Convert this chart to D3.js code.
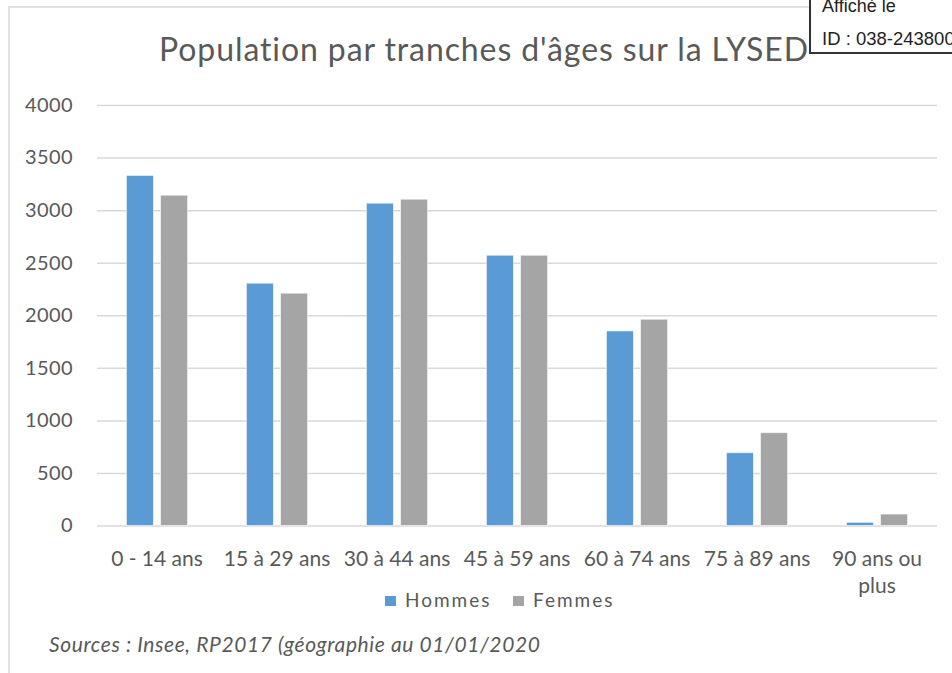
<!DOCTYPE html>
<html><head><meta charset="utf-8">
<script src="https://cdn.jsdelivr.net/npm/d3@7"></script>
<style>
body{margin:0;background:#fff;}
text{font-family:Lato,"Open Sans",sans-serif;fill:#595959;}
</style></head>
<body><svg id="c" width="952" height="673"></svg>
<script>
const categories = ["0 - 14 ans","15 à 29 ans","30 à 44 ans","45 à 59 ans","60 à 74 ans","75 à 89 ans","90 ans ou plus"];
const seriesNames = ["Hommes","Femmes"];
const hommes = [3330, 2305, 3066, 2571, 1851, 693, 30];
const femmes = [3142, 2210, 3104, 2571, 1962, 883, 109];
const yTicks = [0,500,1000,1500,2000,2500,3000,3500,4000];
const colors = ["#5B9BD5","#A5A5A5"];
const title = "Population par tranches d'âges sur la LYSED";
const source = "Sources : Insee, RP2017 (géographie au 01/01/2020";

const svg = d3.select("#c");
const M = {left:97, right:937, top:105, bottom:525.5};

// frame
svg.append("rect").attr("x",9).attr("y",7).attr("width",960).attr("height",700)
  .attr("fill","none").attr("stroke","#d9d9d9").attr("stroke-width",1.5);

const y = d3.scaleLinear().domain([0,4000]).range([M.bottom,M.top]);
const x0 = d3.scaleBand().domain(categories).range([M.left,M.right]).paddingInner(0.49).paddingOuter(0.245);
const x1 = d3.scaleBand().domain(seriesNames).range([0,x0.bandwidth()]).paddingInner(0.206);

// grid
const ya = d3.axisLeft(y).tickValues(yTicks).tickSize(-(M.right-M.left)).tickPadding(24).tickFormat(d3.format("d"));
const gy = svg.append("g").attr("transform",`translate(${M.left},0)`).call(ya);
gy.select(".domain").remove();
gy.selectAll(".tick line").attr("stroke","#d9d9d9").attr("stroke-width",1.5);
gy.selectAll(".tick text").style("font-size","20px").style("letter-spacing","0.4px").attr("fill","#595959");

// bars
const data = categories.map((c,i)=>({c, vals:[hommes[i],femmes[i]]}));
const g = svg.append("g");
g.selectAll("g.grp").data(data).join("g").attr("class","grp")
  .attr("transform",d=>`translate(${x0(d.c)},0)`)
  .selectAll("rect").data(d=>d.vals.map((v,j)=>({k:seriesNames[j],v,j})))
  .join("rect")
  .attr("x",d=>x1(d.k)).attr("width",x1.bandwidth())
  .attr("y",d=>y(d.v)).attr("height",d=>y(0)-y(d.v))
  .attr("fill",d=>colors[d.j]).attr("stroke","#ffffff").attr("stroke-opacity",0.6).attr("stroke-width",1);

// x labels
const xa = d3.axisBottom(x0).tickSize(0).tickPadding(0);
const gx = svg.append("g").attr("transform",`translate(0,${M.bottom})`).call(xa);
gx.select(".domain").remove();
gx.selectAll(".tick text").style("font-size","21px").attr("fill","#595959").attr("dy",null).attr("y",40)
  .each(function(d){
    const t = d3.select(this);
    if(d==="90 ans ou plus"){
      t.text(null);
      t.append("tspan").attr("x",0).attr("y",40).text("90 ans ou");
      t.append("tspan").attr("x",0).attr("y",67).text("plus");
    }
  });

// title
svg.append("text").attr("x",484).attr("y",61).attr("text-anchor","middle").style("font-size","32px").style("letter-spacing","0.9px").text(title);

// legend
const lg = svg.append("g").attr("transform","translate(385,607)");
const items = [{n:seriesNames[0],c:colors[0],x:0},{n:seriesNames[1],c:colors[1],x:128}];
items.forEach(it=>{
  lg.append("rect").attr("x",it.x).attr("y",-11).attr("width",11).attr("height",10).attr("fill",it.c);
  lg.append("text").attr("x",it.x+20).attr("y",0).style("font-size","19px").style("letter-spacing","2px").text(it.n);
});

// source
svg.append("text").attr("x",49).attr("y",652).style("font-size","21px").style("letter-spacing","0.6px").style("font-style","italic").text(source);

// stamp
const st = svg.append("g");
st.append("rect").attr("x",810).attr("y",-5).attr("width",160).attr("height",58).attr("fill","#fff").attr("stroke","#333").attr("stroke-width",2);
st.append("text").attr("x",822).attr("y",12).style("font-family","'Liberation Sans',Arial,sans-serif").style("font-size","18px").style("fill","#222").text("Affiché le");
st.append("text").attr("x",822).attr("y",45).style("font-family","'Liberation Sans',Arial,sans-serif").style("font-size","18.5px").style("fill","#222").text("ID : 038-243800");
</script></body></html>
